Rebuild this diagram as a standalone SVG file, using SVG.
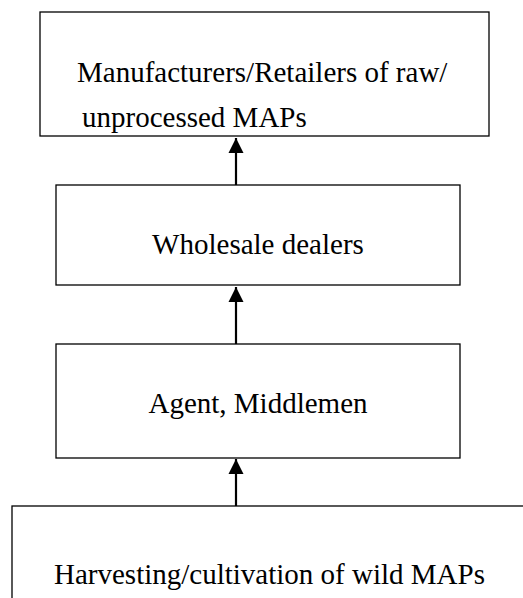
<svg xmlns="http://www.w3.org/2000/svg" width="523" height="598" viewBox="0 0 523 598">
  <style>
    .box { fill: #ffffff; stroke: #000000; stroke-width: 1.3; }
    .lbl { font-family: "Liberation Serif", "Times New Roman", serif; font-size: 29px; fill: #000000; }
    .conn { stroke: #000000; stroke-width: 2.2; fill: none; marker-end: url(#arr); }
  </style>
  <defs>
    <marker id="arr" markerUnits="userSpaceOnUse" markerWidth="16" markerHeight="16" viewBox="0 0 16 16" refX="15" refY="8" orient="auto">
      <path d="M0,0.5 L15,8 L0,15.5 Z" fill="#000000"/>
    </marker>
    <clipPath id="clipTop">
      <rect x="40" y="12" width="449" height="124"/>
    </clipPath>
  </defs>
  <rect width="523" height="598" fill="#ffffff"/>
  <g id="connectors">
    <line class="conn" x1="236" y1="185" x2="236" y2="138"/>
    <line class="conn" x1="236" y1="344" x2="236" y2="287"/>
    <line class="conn" x1="236" y1="506" x2="236" y2="459"/>
  </g>
  <g id="node-manufacturers">
    <rect class="box" x="40" y="12" width="449" height="124"/>
    <g clip-path="url(#clipTop)">
      <text class="lbl" x="77" y="82">Manufacturers/Retailers of raw/</text>
      <text class="lbl" x="82" y="127">unprocessed MAPs</text>
    </g>
  </g>
  <g id="node-wholesale">
    <rect class="box" x="56" y="185" width="404" height="100"/>
    <text class="lbl" x="258" y="254" text-anchor="middle">Wholesale dealers</text>
  </g>
  <g id="node-agent">
    <rect class="box" x="56" y="344" width="404" height="114"/>
    <text class="lbl" x="258" y="413" text-anchor="middle">Agent, Middlemen</text>
  </g>
  <g id="node-harvesting">
    <rect class="box" x="12" y="506" width="600" height="200"/>
    <text class="lbl" x="54" y="584">Harvesting/cultivation of wild MAPs</text>
  </g>
</svg>
